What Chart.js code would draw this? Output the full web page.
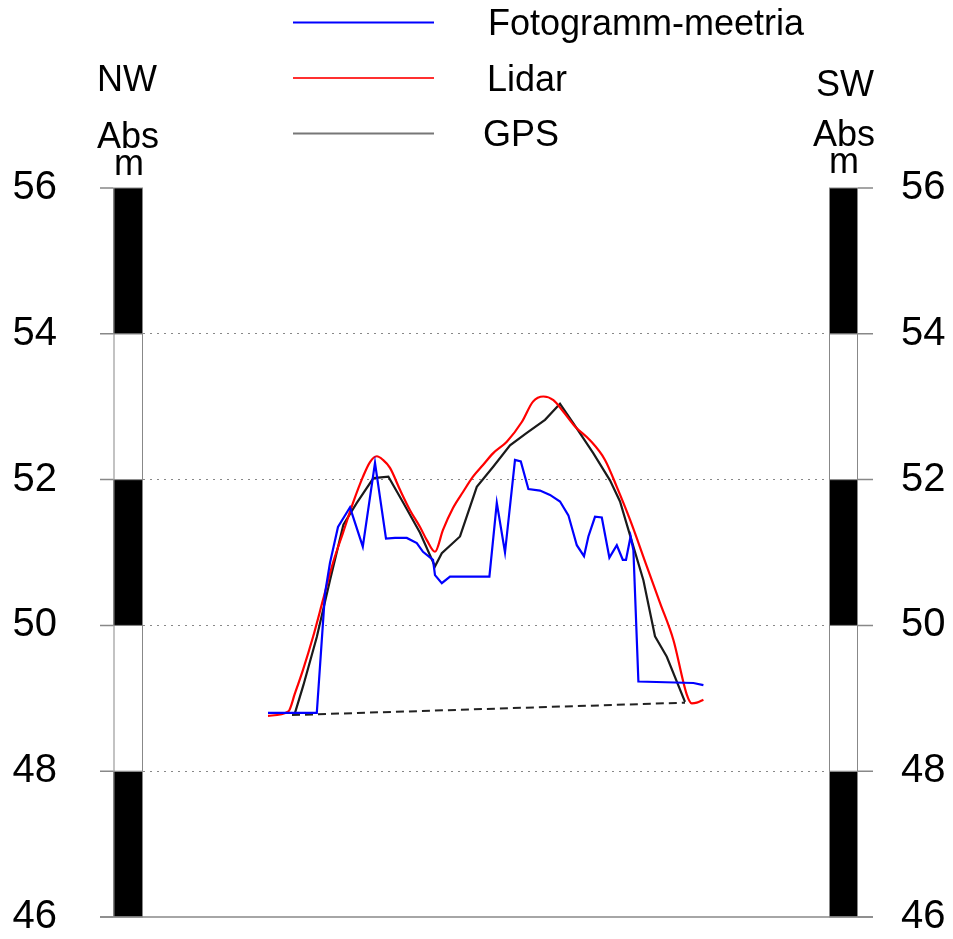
<!DOCTYPE html>
<html>
<head>
<meta charset="utf-8">
<script src="https://cdn.jsdelivr.net/npm/chart.js@4"></script>
<style>
  body { margin: 0; background: #fff; }
</style>
</head>
<body>
<canvas id="profile" width="953" height="939"></canvas>
<script>
// distance along profile (arbitrary units) and height (m)
const fotoX = [62.5, 86.9, 91, 93.5, 97.5, 103.5, 109.9, 116, 121.5, 126, 131.9, 136.9, 140, 145, 146, 149.4, 153.5, 173.2, 176.9, 181, 186, 188.9, 192.7, 198.5, 203.5, 208.5, 212.7, 216.9, 220.5, 222.7, 226, 229.4, 233.2, 236.9, 239.9, 241.5, 243.8, 245.2, 247.7, 275.2, 280.2];
const fotoY = [48.80, 48.80, 50.44, 50.86, 51.35, 51.62, 51.08, 52.23, 51.19, 51.20, 51.20, 51.13, 51.01, 50.90, 50.69, 50.58, 50.67, 50.67, 51.68, 51.00, 52.27, 52.25, 51.87, 51.85, 51.79, 51.70, 51.51, 51.10, 50.95, 51.22, 51.49, 51.48, 50.93, 51.10, 50.90, 50.90, 51.22, 51.03, 49.23, 49.21, 49.18];

const lidarX = [62.5, 72.7, 76, 80, 85, 90, 95, 100, 105, 110, 113.5, 116.9, 120, 123.5, 128.5, 133.5, 138.5, 141.9, 146, 150, 155, 160, 165, 170, 175, 181.9, 189.4, 195, 200.2, 205.2, 210.2, 216, 223.5, 231, 236.9, 243.5, 251.9, 258.5, 265.2, 271.9, 274.4, 276.9, 280.2];
const lidarY = [48.76, 48.82, 49.07, 49.39, 49.84, 50.35, 50.86, 51.27, 51.68, 52.04, 52.24, 52.32, 52.27, 52.16, 51.86, 51.58, 51.35, 51.17, 51.01, 51.31, 51.61, 51.83, 52.04, 52.20, 52.36, 52.52, 52.79, 53.07, 53.14, 53.09, 52.93, 52.73, 52.54, 52.27, 51.90, 51.45, 50.81, 50.31, 49.80, 49.05, 48.93, 48.94, 48.98];

const gpsX = [76, 80.2, 86.9, 93.5, 100.2, 106.9, 115.2, 122.7, 130.2, 138.5, 146, 149.4, 158.5, 166.9, 175.2, 183.5, 191.9, 201, 208.5, 215.2, 225.2, 233.5, 238.5, 245.2, 250.2, 256, 261.9, 271];
const gpsY = [48.80, 49.18, 49.84, 50.62, 51.38, 51.68, 52.02, 52.04, 51.68, 51.27, 50.81, 50.99, 51.22, 51.90, 52.18, 52.47, 52.64, 52.82, 53.04, 52.77, 52.36, 51.99, 51.70, 51.08, 50.62, 49.85, 49.57, 48.95];

const baseX = [74.5, 271];
const baseY = [48.77, 48.94];

const seriesNames = ["Fotogramm-meetria", "Lidar", "GPS"];
const sideLabels = ["NW", "SW"];
const unitLabels = ["Abs", "m"];
const barBreaks = [46, 48, 50, 52, 54, 56];
const barFill = ["#000", "#fff", "#000", "#fff", "#000"];

const FONT = '"Liberation Sans", Arial, sans-serif';

function pts(xs, ys) {
  return xs.map((x, i) => ({ x: x, y: ys[i] }));
}

// tick label padding also pads the axis vertically; undo that
function fixAxis(width) {
  return function (scale) {
    scale.width = width;
    scale.paddingTop = 0;
    scale.paddingBottom = 0;
  };
}

const decor = {
  id: "decor",
  beforeDatasetsDraw(chart) {
    const { ctx, chartArea: a, scales: { y } } = chart;
    ctx.save();
    // black / white height bars on both sides
    const bars = [[a.left - 29.5, 29.5], [a.right, 29]];
    bars.forEach(([x0, w]) => {
      for (let i = 0; i < barBreaks.length - 1; i++) {
        const yb = y.getPixelForValue(barBreaks[i]);
        const yt = y.getPixelForValue(barBreaks[i + 1]);
        ctx.fillStyle = barFill[i];
        ctx.fillRect(x0, yt, w, yb - yt);
        ctx.strokeStyle = "#888";
        ctx.lineWidth = 1;
        ctx.strokeRect(x0 + 0.5, yt, w - 1, yb - yt);
      }
    });
    // tick stubs
    ctx.strokeStyle = "#888";
    ctx.lineWidth = 1.5;
    barBreaks.forEach((v) => {
      const py = y.getPixelForValue(v);
      ctx.beginPath();
      ctx.moveTo(a.left - 43, py);
      ctx.lineTo(a.left - 29.5, py);
      ctx.moveTo(a.right + 29, py);
      ctx.lineTo(a.right + 44, py);
      ctx.stroke();
    });
    const py0 = y.getPixelForValue(barBreaks[0]);
    ctx.beginPath();
    ctx.moveTo(a.left - 43, py0);
    ctx.lineTo(a.right + 44, py0);
    ctx.stroke();
    ctx.restore();
  },
  afterDraw(chart) {
    const { ctx, chartArea: a } = chart;
    ctx.save();
    // legend
    const legendColors = ["#0000ff", "#ff3030", "#777777"];
    const textX = [488, 487, 483];
    ctx.font = "36px " + FONT;
    ctx.textAlign = "left";
    ctx.textBaseline = "alphabetic";
    seriesNames.forEach((name, i) => {
      const ly = 22.5 + i * 55.5;
      ctx.strokeStyle = legendColors[i];
      ctx.lineWidth = 2;
      ctx.beginPath();
      ctx.moveTo(293, ly);
      ctx.lineTo(434, ly);
      ctx.stroke();
      ctx.fillStyle = "#000";
      ctx.fillText(name, textX[i], ly + 12.5);
    });
    // side headers
    ctx.textAlign = "center";
    ctx.fillText(sideLabels[0], a.left - 16, 90.5);
    ctx.fillText(unitLabels[0], a.left - 15, 148);
    ctx.fillText(unitLabels[1], a.left - 14, 175);
    ctx.fillText(sideLabels[1], a.right + 16, 96);
    ctx.fillText(unitLabels[0], a.right + 15, 146);
    ctx.fillText(unitLabels[1], a.right + 15, 173);
    ctx.restore();
  }
};

new Chart(document.getElementById("profile"), {
  type: "line",
  data: {
    datasets: [
      {
        label: seriesNames[0],
        data: pts(fotoX, fotoY),
        borderColor: "#0000ff",
        borderWidth: 2.2,
        pointRadius: 0,
        tension: 0
      },
      {
        label: seriesNames[1],
        data: pts(lidarX, lidarY),
        borderColor: "#ff0000",
        borderWidth: 2.2,
        pointRadius: 0,
        cubicInterpolationMode: "monotone"
      },
      {
        label: seriesNames[2],
        data: pts(gpsX, gpsY),
        borderColor: "#1a1a1a",
        borderWidth: 2.2,
        pointRadius: 0,
        tension: 0
      },
      {
        label: "base",
        data: pts(baseX, baseY),
        borderColor: "#222",
        borderWidth: 2,
        borderDash: [8, 5],
        pointRadius: 0
      }
    ]
  },
  options: {
    responsive: false,
    animation: false,
    devicePixelRatio: 1,
    layout: { padding: { top: 188, bottom: 22, left: 0, right: 0 } },
    plugins: { legend: { display: false }, tooltip: { enabled: false } },
    scales: {
      x: { type: "linear", min: 0, max: 343, display: false },
      y: {
        position: "left",
        min: 46,
        max: 56,
        afterFit: fixAxis(143),
        ticks: {
          stepSize: 2,
          padding: 86,
          color: "#000",
          font: { family: FONT, size: 40, lineHeight: 1 }
        },
        grid: {
          drawTicks: false,
          lineWidth: 1,
          color: (c) => (c.tick && c.tick.value > 46 && c.tick.value < 56 ? "#888" : "rgba(0,0,0,0)")
        },
        border: { display: false, dash: [2, 5] }
      },
      y2: {
        position: "right",
        min: 46,
        max: 56,
        afterFit: fixAxis(124),
        ticks: {
          stepSize: 2,
          padding: 72,
          color: "#000",
          font: { family: FONT, size: 40, lineHeight: 1 }
        },
        grid: { display: false, drawTicks: false },
        border: { display: false }
      }
    }
  },
  plugins: [decor]
});
</script>
</body>
</html>
